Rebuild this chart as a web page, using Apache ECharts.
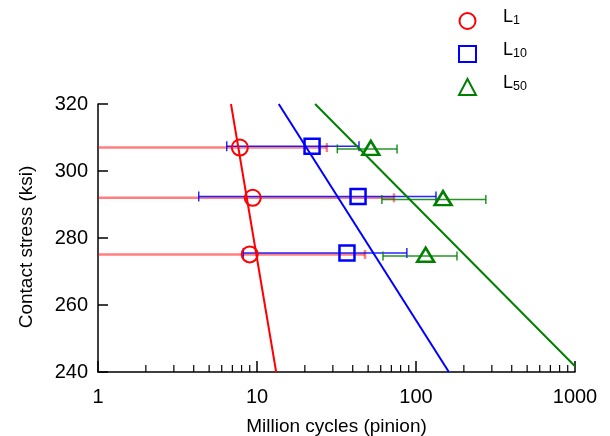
<!DOCTYPE html>
<html><head><meta charset="utf-8">
<script src="https://cdn.jsdelivr.net/npm/echarts@6/dist/echarts.min.js"></script>
<style>html,body{margin:0;padding:0;background:#fff}#c{width:610px;height:436px}</style>
</head><body><div id="c"></div>
<script>
// axis ticks
const xMin = 1, xMax = 1000;
const yMin = 240, yMax = 320, yStep = 20;
const minorTicks = [2,3,4,5,6,7,8,9,20,30,40,50,60,70,80,90,200,300,400,500,600,700,800,900];

// L1 (red circles)
const l1Stress = [307, 292, 275.1];
const l1Life = [7.8, 9.4, 9.0];
const l1Low = [0.5, 0.5, 0.5];
const l1High = [27.5, 72.7, 47.8];
// L10 (blue squares)
const l10Stress = [307.4, 292.4, 275.5];
const l10Life = [22.2, 43.2, 36.8];
const l10Low = [6.45, 4.3, 8.2];
const l10High = [43.8, 133.6, 87.6];
// L50 (green triangles)
const l50Stress = [306.9, 291.9, 275.0];
const l50BarStress = [306.6, 291.5, 274.6];
const l50Life = [52, 148, 115];
const l50Low = [32, 61, 62];
const l50High = [76, 275, 181];
// fitted lines [life, stress]
const l1FitLife = [6.86, 13.2];
const l1FitStress = [320, 240];
const l10FitLife = [13.7, 161];
const l10FitStress = [320, 240];
const l50FitLife = [23.2, 1000];
const l50FitStress = [320, 241.7];

const FONT = 'Liberation Sans, Arial, sans-serif';
const RED = '#ff0000', BLUE = '#0000ff', GREEN = '#008000';

function zip2(a, b) { return a.map((v, i) => [v, b[i]]); }
function bars(low, high, y) { return low.map((v, i) => [v, high[i], y[i]]); }

function errRender(color, width, cap, opacity) {
  return function (params, api) {
    const y = api.value(2);
    const p1 = api.coord([api.value(0), y]);
    const p2 = api.coord([api.value(1), y]);
    const st = { stroke: color, lineWidth: width, opacity: opacity };
    return {
      type: 'group',
      children: [
        { type: 'line', shape: { x1: p1[0], y1: p1[1], x2: p2[0], y2: p2[1] }, style: st },
        { type: 'line', shape: { x1: p1[0], y1: p1[1] - cap, x2: p1[0], y2: p1[1] + cap }, style: st },
        { type: 'line', shape: { x1: p2[0], y1: p2[1] - cap, x2: p2[0], y2: p2[1] + cap }, style: st }
      ]
    };
  };
}

const chart = echarts.init(document.getElementById('c'), null, { renderer: 'canvas' });
const legendNames = { L1: '1', L10: '10', L50: '50' };
chart.setOption({
  animation: false,
  backgroundColor: '#fff',
  grid: { left: 98, right: 35, top: 104, bottom: 64, containLabel: false, outerBoundsMode: 'none' },
  legend: {
    orient: 'vertical',
    left: 453, top: 3.5,
    itemWidth: 17, itemHeight: 16, itemGap: 8,
    selectedMode: false,
    data: [
      { name: 'L1', icon: 'circle', itemStyle: { color: 'rgba(0,0,0,0)', borderColor: RED, borderWidth: 2 } },
      { name: 'L10', icon: 'rect', itemStyle: { color: 'rgba(0,0,0,0)', borderColor: BLUE, borderWidth: 2 } },
      { name: 'L50', icon: 'triangle', itemStyle: { color: 'rgba(0,0,0,0)', borderColor: GREEN, borderWidth: 2 } }
    ],
    formatter: n => '{a|L}{b|' + legendNames[n] + '}',
    textStyle: {
      padding: [0, 0, 0, 22],
      rich: {
        a: { fontSize: 18, fontFamily: FONT, color: '#000', lineHeight: 20, padding: [0, 0, 7, 0] },
        b: { fontSize: 12.5, fontFamily: FONT, color: '#000', lineHeight: 14 }
      }
    }
  },
  xAxis: {
    type: 'log', logBase: 10, min: xMin, max: xMax,
    name: 'Million cycles (pinion)', nameLocation: 'middle', nameGap: 45,
    nameTextStyle: { fontSize: 19, fontFamily: FONT, color: '#000' },
    axisLine: { lineStyle: { color: '#000', width: 1.5 } },
    axisTick: { inside: true, length: 11, lineStyle: { color: '#000', width: 1.5 } },
    axisLabel: { fontSize: 20, fontFamily: FONT, color: '#000', margin: 15, formatter: v => String(Math.round(v)) },
    splitLine: { show: false }
  },
  yAxis: {
    type: 'value', min: yMin, max: yMax, interval: yStep,
    name: 'Contact stress (ksi)', nameLocation: 'middle', nameGap: 62,
    nameTextStyle: { fontSize: 19, fontFamily: FONT, color: '#000', padding: [0, 18, 0, 0] },
    axisLine: { lineStyle: { color: '#000', width: 1.5 } },
    axisTick: { inside: true, length: 10, lineStyle: { color: '#000', width: 1.5 } },
    axisLabel: { fontSize: 20, fontFamily: FONT, color: '#000', margin: 10 },
    splitLine: { show: false }
  },
  series: [
    {
      type: 'custom', name: 'minor', silent: true, z: 1,
      data: minorTicks.map(v => [v]),
      encode: { x: 0 },
      renderItem: (params, api) => {
        const p = api.coord([api.value(0), yMin]);
        return { type: 'line', shape: { x1: p[0], y1: p[1], x2: p[0], y2: p[1] - 7 }, style: { stroke: '#000', lineWidth: 1.2 } };
      }
    },
    { type: 'custom', name: 'L1 err', silent: true, clip: true, z: 2, data: bars(l1Low, l1High, l1Stress), encode: { x: [0, 1], y: 2 }, renderItem: errRender(RED, 2.5, 4.5, 0.5) },
    { type: 'custom', name: 'L10 err', silent: true, clip: true, z: 2, data: bars(l10Low, l10High, l10Stress), encode: { x: [0, 1], y: 2 }, renderItem: errRender(BLUE, 1.5, 5, 0.85) },
    { type: 'custom', name: 'L50 err', silent: true, clip: true, z: 2, data: bars(l50Low, l50High, l50BarStress), encode: { x: [0, 1], y: 2 }, renderItem: errRender(GREEN, 1.5, 4.5, 0.85) },
    { type: 'line', name: 'L1 fit', silent: true, z: 3, showSymbol: false, data: zip2(l1FitLife, l1FitStress), lineStyle: { color: RED, width: 2 } },
    { type: 'line', name: 'L10 fit', silent: true, z: 3, showSymbol: false, data: zip2(l10FitLife, l10FitStress), lineStyle: { color: BLUE, width: 2 } },
    { type: 'line', name: 'L50 fit', silent: true, z: 3, showSymbol: false, data: zip2(l50FitLife, l50FitStress), lineStyle: { color: GREEN, width: 2 } },
    { type: 'scatter', name: 'L1', z: 5, symbol: 'circle', symbolSize: 16, data: zip2(l1Life, l1Stress), itemStyle: { color: 'rgba(0,0,0,0)', borderColor: RED, borderWidth: 2, opacity: 1 } },
    { type: 'scatter', name: 'L10', z: 5, symbol: 'rect', symbolSize: 15, data: zip2(l10Life, l10Stress), itemStyle: { color: 'rgba(0,0,0,0)', borderColor: BLUE, borderWidth: 2.5, opacity: 1 } },
    { type: 'scatter', name: 'L50', z: 5, symbol: 'triangle', symbolSize: [17, 14], data: zip2(l50Life, l50Stress), itemStyle: { color: 'rgba(0,0,0,0)', borderColor: GREEN, borderWidth: 2.5, opacity: 1 } }
  ]
});
</script>
</body></html>
